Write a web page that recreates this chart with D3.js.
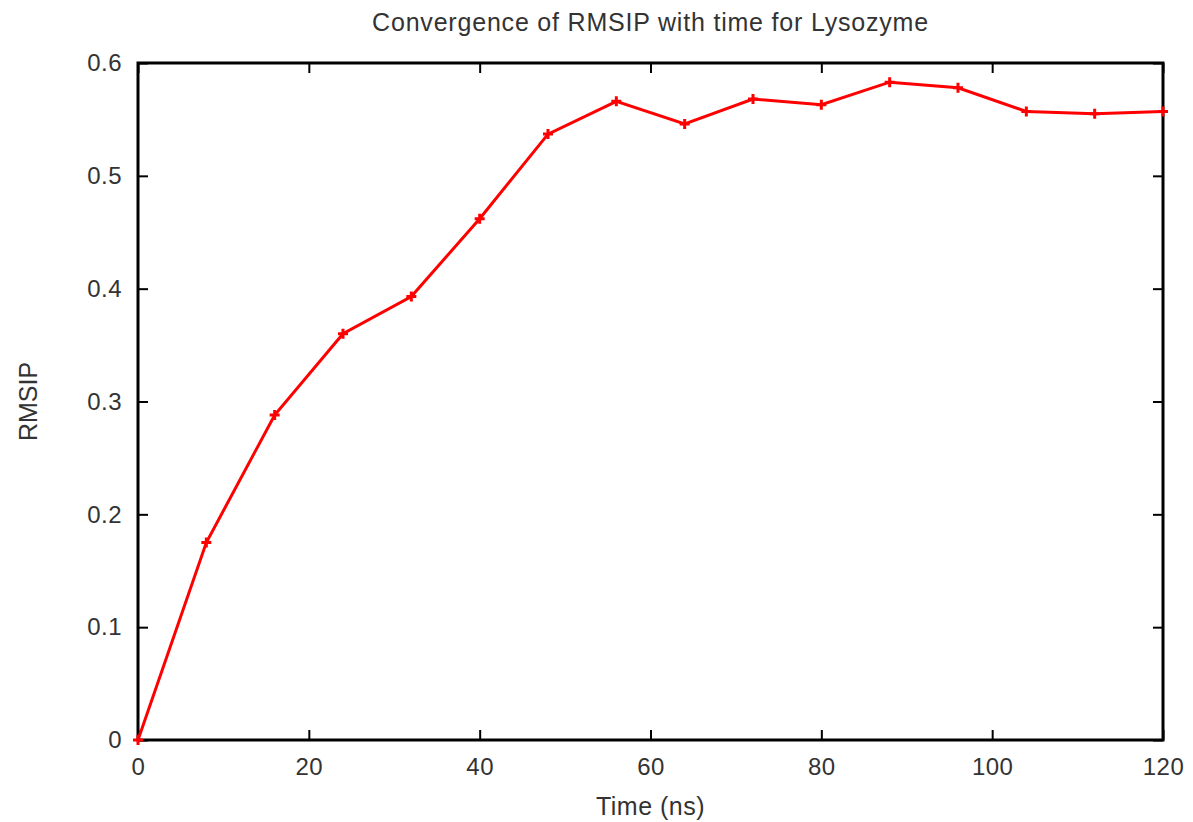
<!DOCTYPE html>
<html>
<head>
<meta charset="utf-8">
<script src="https://cdn.jsdelivr.net/npm/d3@7"></script>
<style>
  body { margin: 0; background: #fff; }
  text { font-family: "Liberation Sans", Arial, sans-serif; fill: #333; }
</style>
</head>
<body>
<div id="chart"></div>
<script>
// data
var timeNs = [0, 8, 16, 24, 32, 40, 48, 56, 64, 72, 80, 88, 96, 104, 112, 120];
var rmsip  = [0, 0.175, 0.288, 0.36, 0.393, 0.462, 0.537, 0.566, 0.546, 0.568, 0.563, 0.583, 0.578, 0.557, 0.555, 0.557];
var xTicks = [0, 20, 40, 60, 80, 100, 120];
var yTicks = [0, 0.1, 0.2, 0.3, 0.4, 0.5, 0.6];

var width = 1193, height = 822;
var margin = {top: 63, right: 30, bottom: 82, left: 138};
var w = width - margin.left - margin.right,
    h = height - margin.top - margin.bottom;

var x = d3.scaleLinear().domain([0, 120]).range([0, w]);
var y = d3.scaleLinear().domain([0, 0.6]).range([h, 0]);

var svg = d3.select("#chart").append("svg")
    .attr("width", width)
    .attr("height", height);

var g = svg.append("g")
    .attr("transform", "translate(" + margin.left + "," + margin.top + ")");

var tickLen = 10;
var fontSize = "24px";

// inward ticks on all four sides (gnuplot look)
var axes = [
  {axis: d3.axisBottom(x).tickValues(xTicks).tickSize(-tickLen).tickPadding(18).tickFormat(d3.format("d")), t: "translate(0," + h + ")"},
  {axis: d3.axisTop(x).tickValues(xTicks).tickSize(-tickLen).tickFormat(""), t: "translate(0,0)"},
  {axis: d3.axisLeft(y).tickValues(yTicks).tickSize(-tickLen).tickPadding(16).tickFormat(function (d) { return d === 0 ? "0" : d3.format(".1f")(d); }), t: "translate(0,0)"},
  {axis: d3.axisRight(y).tickValues(yTicks).tickSize(-tickLen).tickFormat(""), t: "translate(" + w + ",0)"}
];

axes.forEach(function (a) {
  var ax = g.append("g")
      .attr("transform", a.t)
      .call(a.axis);
  ax.select(".domain").remove();
  ax.selectAll("line").attr("stroke", "#000").attr("stroke-width", 2);
  ax.selectAll("text")
      .style("font-size", fontSize)
      .style("letter-spacing", "0.5px")
      .attr("fill", "#444");
});

// frame
g.append("rect")
    .attr("x", 0).attr("y", 0)
    .attr("width", w).attr("height", h)
    .attr("fill", "none")
    .attr("stroke", "#000")
    .attr("stroke-width", 3);

var pts = timeNs.map(function (t, i) { return {t: t, v: rmsip[i]}; });

var line = d3.line()
    .x(function (d) { return x(d.t); })
    .y(function (d) { return y(d.v); });

g.append("path")
    .datum(pts)
    .attr("d", line)
    .attr("fill", "none")
    .attr("stroke", "#ff0000")
    .attr("stroke-width", 3);

// "+" markers
var m = 5;
g.selectAll(".pt")
    .data(pts)
    .enter().append("path")
    .attr("class", "pt")
    .attr("d", function (d) {
      var cx = x(d.t), cy = y(d.v);
      return "M" + (cx - m) + "," + cy + "H" + (cx + m) + "M" + cx + "," + (cy - m) + "V" + (cy + m);
    })
    .attr("stroke", "#ff0000")
    .attr("stroke-width", 3);

svg.append("text")
    .attr("x", margin.left + w / 2)
    .attr("y", 31)
    .attr("text-anchor", "middle")
    .style("font-size", "25px")
    .style("letter-spacing", "0.8px")
    .text("Convergence of RMSIP with time for Lysozyme");

svg.append("text")
    .attr("x", margin.left + w / 2)
    .attr("y", 815)
    .attr("text-anchor", "middle")
    .style("font-size", "25px")
    .style("letter-spacing", "0.5px")
    .text("Time (ns)");

svg.append("text")
    .attr("transform", "translate(37," + (margin.top + h / 2) + ") rotate(-90)")
    .attr("text-anchor", "middle")
    .style("font-size", "25px")
    .text("RMSIP");
</script>
</body>
</html>
